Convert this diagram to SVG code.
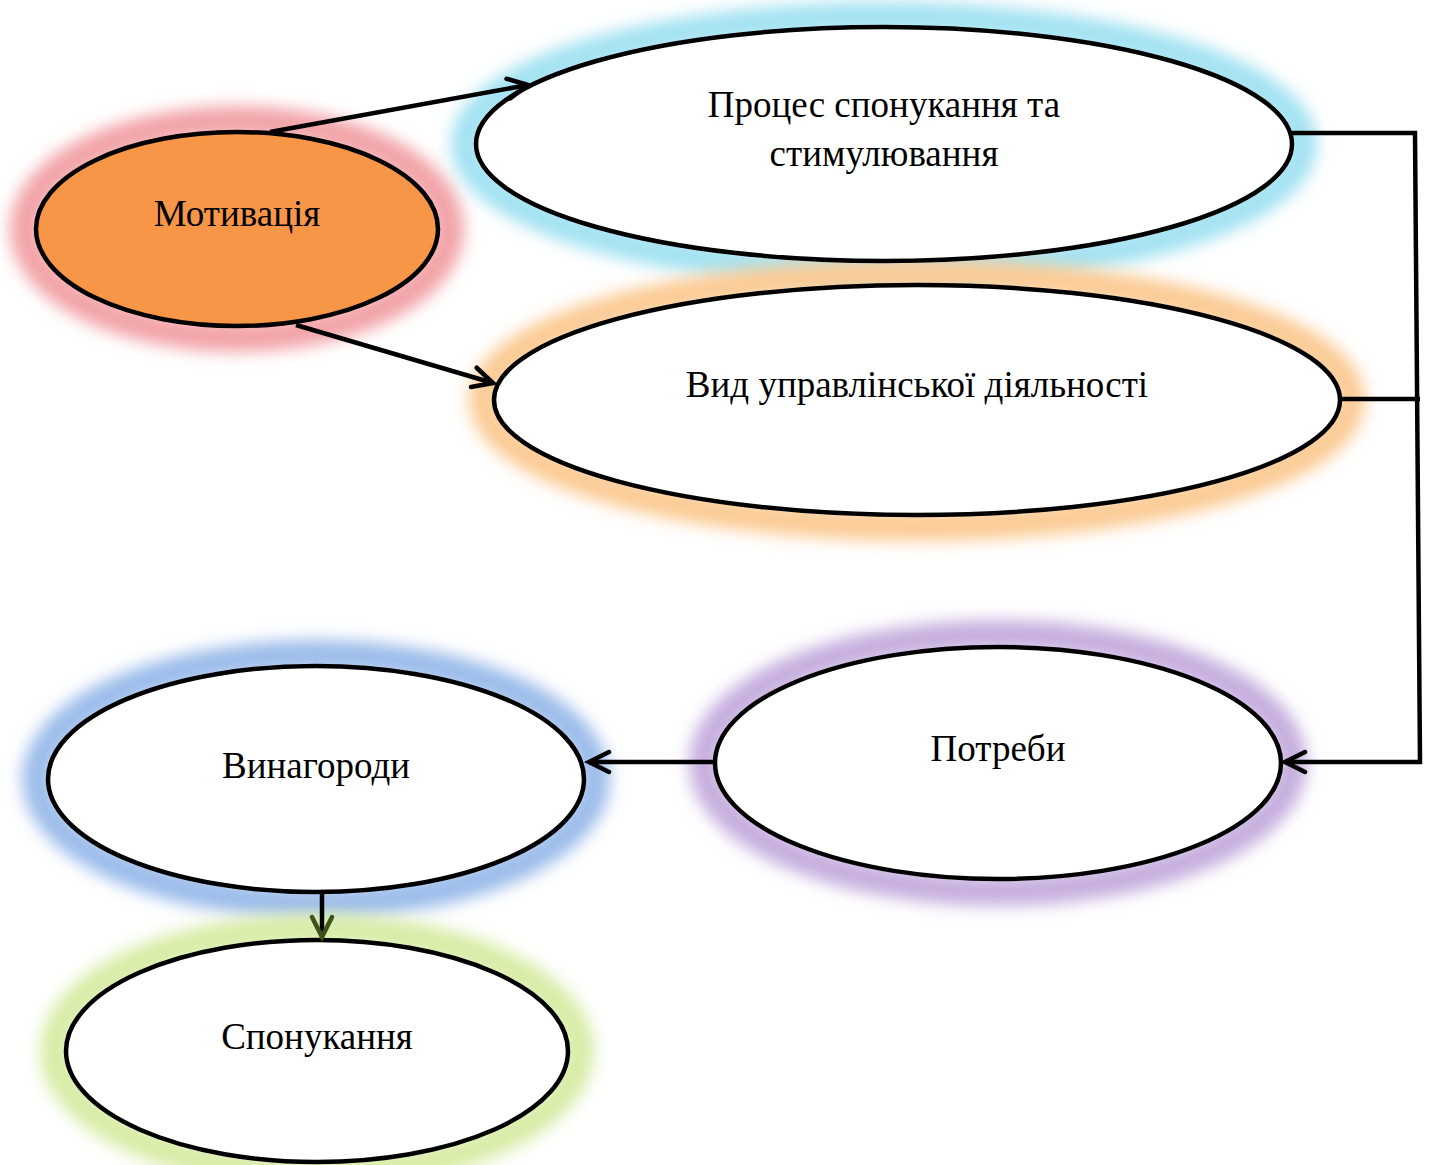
<svg xmlns="http://www.w3.org/2000/svg" width="1431" height="1165" viewBox="0 0 1431 1165">
<defs>
<style>
.node{stroke:#000;stroke-width:4.5;fill:#fff}
.glow{fill:none;stroke-width:30;filter:url(#blur)}
.lbl{font-family:"Liberation Serif","Times New Roman",serif;font-size:37px;fill:#000;text-anchor:middle}
.conn{stroke:#000;stroke-width:4.5;fill:none}
</style>
<filter id="blur" x="-20%" y="-30%" width="140%" height="160%"><feGaussianBlur stdDeviation="8"/></filter>
<marker id="arr" markerUnits="userSpaceOnUse" markerWidth="30" markerHeight="30" refX="24" refY="12" orient="auto" viewBox="0 0 30 24">
<path d="M4,2 L24,12 L4,22" fill="none" stroke="#000" stroke-width="4.5" stroke-linecap="round" stroke-linejoin="miter"/>
</marker>
<marker id="arrG" markerUnits="userSpaceOnUse" markerWidth="30" markerHeight="30" refX="24" refY="12" orient="auto" viewBox="0 0 30 24">
<path d="M4,2 L24,12 L4,22" fill="none" stroke="#3E5118" stroke-width="4.5" stroke-linecap="round"/>
</marker>
<linearGradient id="g1" gradientUnits="userSpaceOnUse" x1="270" y1="132" x2="530" y2="85"><stop offset="0" stop-color="#5a0a0a"/><stop offset="0.35" stop-color="#000"/></linearGradient>
<linearGradient id="g2" gradientUnits="userSpaceOnUse" x1="296" y1="325" x2="494" y2="383"><stop offset="0" stop-color="#5a0a0a"/><stop offset="0.45" stop-color="#000"/></linearGradient>
</defs>

<g id="glows">
<ellipse class="glow" cx="237" cy="229" rx="212" ry="108" stroke="#F2A3A7"/>
<ellipse class="glow" cx="884" cy="144" rx="418" ry="127" stroke="#A3E2F2"/>
<ellipse class="glow" cx="917" cy="400" rx="433" ry="126" stroke="#FBCB94"/>
<ellipse class="glow" cx="998" cy="763" rx="294" ry="128" stroke="#C6AEDE"/>
<ellipse class="glow" cx="316" cy="779" rx="279" ry="124" stroke="#9BBCEA"/>
<ellipse class="glow" cx="317" cy="1051" rx="262" ry="122" stroke="#D8ECA6"/>
</g>

<g id="node-motyvatsiia">
<ellipse class="node" cx="237" cy="229" rx="201" ry="97" style="fill:#F79646"/>
<text class="lbl" x="237" y="226">Мотивація</text>
</g>

<g id="node-protses">
<ellipse class="node" cx="884" cy="144" rx="408" ry="117"/>
<text class="lbl" x="884" y="117">Процес спонукання та</text>
<text class="lbl" x="884" y="166">стимулювання</text>
</g>

<g id="node-vyd">
<ellipse class="node" cx="917" cy="400" rx="423" ry="115"/>
<text class="lbl" x="917" y="397">Вид управлінської діяльності</text>
</g>

<g id="node-potreby">
<ellipse class="node" cx="998" cy="763" rx="283" ry="116"/>
<text class="lbl" x="998" y="761">Потреби</text>
</g>

<g id="node-vynahorody">
<ellipse class="node" cx="316" cy="779" rx="268" ry="113"/>
<text class="lbl" x="316" y="778">Винагороди</text>
</g>

<g id="node-sponukannia">
<ellipse class="node" cx="317" cy="1051" rx="251" ry="111"/>
<text class="lbl" x="317" y="1049">Спонукання</text>
</g>

<g id="connectors">
<line class="conn" x1="270" y1="132" x2="528" y2="85" stroke="url(#g1)" marker-end="url(#arr)"/>
<line class="conn" x1="296" y1="325" x2="493" y2="383" stroke="url(#g2)" marker-end="url(#arr)"/>
<polyline class="conn" points="1292,133 1415,133 1420,762 1285,762" marker-end="url(#arr)"/>
<line class="conn" x1="1340" y1="399" x2="1420" y2="399"/>
<line class="conn" x1="715" y1="762" x2="589" y2="762" marker-end="url(#arr)"/>
<line class="conn" x1="322" y1="893" x2="322" y2="937" stroke="#3E5118" marker-end="url(#arrG)"/>
</g>
</svg>
